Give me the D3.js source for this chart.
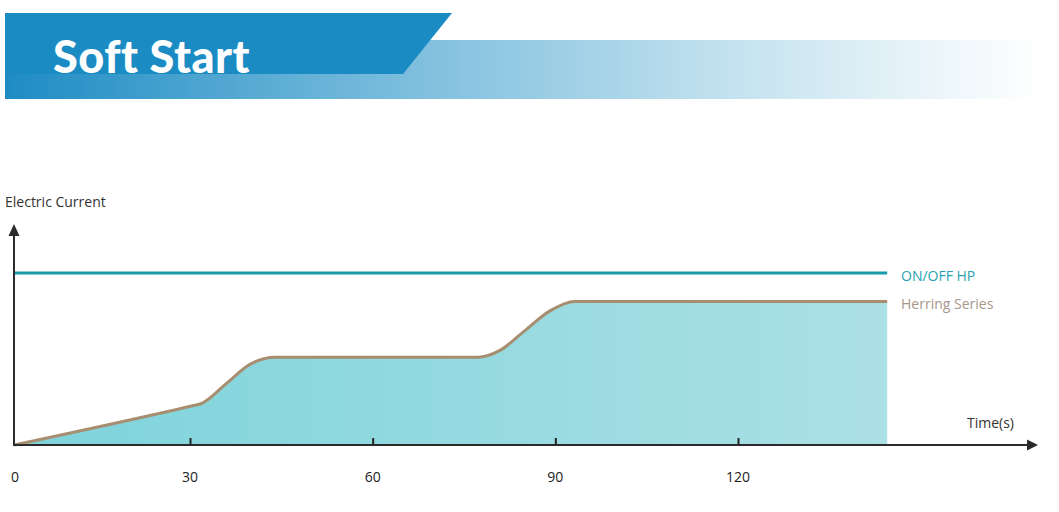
<!DOCTYPE html>
<html lang="en">
<head>
    <meta charset="UTF-8">
    <title>Soft Start</title>
    <style>
        body { margin: 0; background: #fff; }
        text { font-family: 'Open Sans', 'Noto Sans', sans-serif; }
    </style>
</head>
<body>
    <div id='chart'></div>

    <script src='https://cdnjs.cloudflare.com/ajax/libs/d3/7.8.5/d3.min.js'></script>
    <script type='text/javascript'>
        const width = 1059;
        const height = 512;

        // data (time in s, current in % of ON/OFF level)
        const herringTime  = [1.1, 30.6, 31.8, 35.9, 39.9, 44, 77.3, 80.9, 85, 89.1, 93.2, 144.5];
        const herringValue = [0, 23, 24, 35.5, 47, 51, 51, 55, 66.5, 78, 83.5, 83.5];
        const onOffTime  = [1.1, 144.5];
        const onOffValue = [100, 100];
        const tickValues = [0, 30, 60, 90, 120];
        const seriesNames = ['ON/OFF HP', 'Herring Series'];

        const herring = herringTime.map((t, i) => ({t: t, v: herringValue[i]}));
        const onOff = onOffTime.map((t, i) => ({t: t, v: onOffValue[i]}));

        let svg = d3.select('#chart')
                    .append('svg')
                      .attr('width', width)
                      .attr('height', height);

        let defs = svg.append('defs');

        // header gradients
        let bandGrad = defs.append('linearGradient')
                             .attr('id', 'band')
                             .attr('x1', '0%').attr('x2', '100%');
        bandGrad.append('stop').attr('offset', '0%').attr('stop-color', '#1e8cc4');
        bandGrad.append('stop').attr('offset', '40%').attr('stop-color', '#7fbfde');
        bandGrad.append('stop').attr('offset', '70%').attr('stop-color', '#c3e2ef');
        bandGrad.append('stop').attr('offset', '100%').attr('stop-color', '#ffffff');

        let fillGrad = defs.append('linearGradient')
                             .attr('id', 'fill')
                             .attr('x1', '0%').attr('x2', '100%');
        fillGrad.append('stop').attr('offset', '0%').attr('stop-color', '#7dd3db');
        fillGrad.append('stop').attr('offset', '100%').attr('stop-color', '#abe0e5');

        // header
        let header = svg.append('g').attr('id', 'header');
        header.append('rect')
              .attr('x', 5).attr('y', 40)
              .attr('width', 1035).attr('height', 59)
              .attr('fill', 'url(#band)');
        header.append('path')
              .attr('d', 'M5,13 L452,13 L403,74 L5,74 Z')
              .attr('fill', '#1b8cc3');
        header.append('text')
              .attr('x', 53).attr('y', 73)
              .attr('fill', '#fff')
              .style('font-family', 'Lato, sans-serif')
              .style('font-weight', 900)
              .style('font-size', '45px')
              .style('letter-spacing', '0.5px')
              .text('Soft Start');

        // scales (ticks at 30 and 120 read at x=190 and x=738)
        let xScale = d3.scaleLinear().domain([30, 120]).range([190, 738]);
        let yScale = d3.scaleLinear().domain([0, 100]).range([445, 273]);
        const x0 = 14;

        let viz = svg.append('g').attr('id', 'viz');

        // herring area + line
        let area = d3.area()
                     .x(d => xScale(d.t))
                     .y0(yScale(0))
                     .y1(d => yScale(d.v))
                     .curve(d3.curveMonotoneX);
        viz.append('path')
           .datum(herring)
           .attr('d', area)
           .attr('fill', 'url(#fill)');

        let line = d3.line()
                     .x(d => xScale(d.t))
                     .y(d => yScale(d.v))
                     .curve(d3.curveMonotoneX);
        viz.append('path')
           .datum(herring)
           .attr('d', line)
           .attr('fill', 'none')
           .attr('stroke', '#a88e70')
           .attr('stroke-width', 3);

        viz.append('path')
           .datum(onOff)
           .attr('d', d3.line().x(d => xScale(d.t)).y(d => yScale(d.v)))
           .attr('fill', 'none')
           .attr('stroke', '#1a9bab')
           .attr('stroke-width', 3);

        // axes
        let xAxis = d3.axisTop(xScale)
                      .tickValues(tickValues.slice(1))
                      .tickSize(7)
                      .tickFormat('');
        let xg = viz.append('g')
                    .attr('transform', `translate(0, ${yScale(0)})`)
                    .call(xAxis);
        xg.select('.domain').remove();
        xg.selectAll('line').attr('stroke', '#222').attr('stroke-width', 2);

        viz.append('line')
           .attr('x1', x0 - 1).attr('x2', 1030)
           .attr('y1', yScale(0)).attr('y2', yScale(0))
           .attr('stroke', '#2b2b2b').attr('stroke-width', 2);
        viz.append('path')
           .attr('d', 'M1038,445 L1027,439.5 L1027,450.5 Z')
           .attr('fill', '#2b2b2b');

        viz.append('line')
           .attr('x1', x0).attr('x2', x0)
           .attr('y1', 446).attr('y2', 232)
           .attr('stroke', '#2b2b2b').attr('stroke-width', 2);
        viz.append('path')
           .attr('d', 'M14,224 L8.5,236 L19.5,236 Z')
           .attr('fill', '#2b2b2b');

        // tick labels (0 sits under the origin)
        viz.selectAll('text.tick-label')
           .data(tickValues)
           .enter()
           .append('text')
             .attr('class', 'tick-label')
             .attr('x', d => d === 0 ? x0 + 1 : xScale(d))
             .attr('y', 482)
             .attr('text-anchor', 'middle')
             .attr('fill', '#222')
             .style('font-size', '14px')
             .text(d => d);

        // axis titles
        viz.append('text')
           .attr('x', 5).attr('y', 207)
           .attr('fill', '#333')
           .style('font-size', '14px')
           .text('Electric Current');
        viz.append('text')
           .attr('x', 967).attr('y', 428)
           .attr('fill', '#333')
           .style('font-size', '14px')
           .text('Time(s)');

        // series labels
        viz.append('text')
           .attr('x', 901).attr('y', 281)
           .attr('fill', '#2a9fb0')
           .style('font-size', '14px')
           .text(seriesNames[0]);
        viz.append('text')
           .attr('x', 901).attr('y', 309)
           .attr('fill', '#a5978a')
           .style('font-size', '14px')
           .text(seriesNames[1]);
    </script>
</body>
</html>
